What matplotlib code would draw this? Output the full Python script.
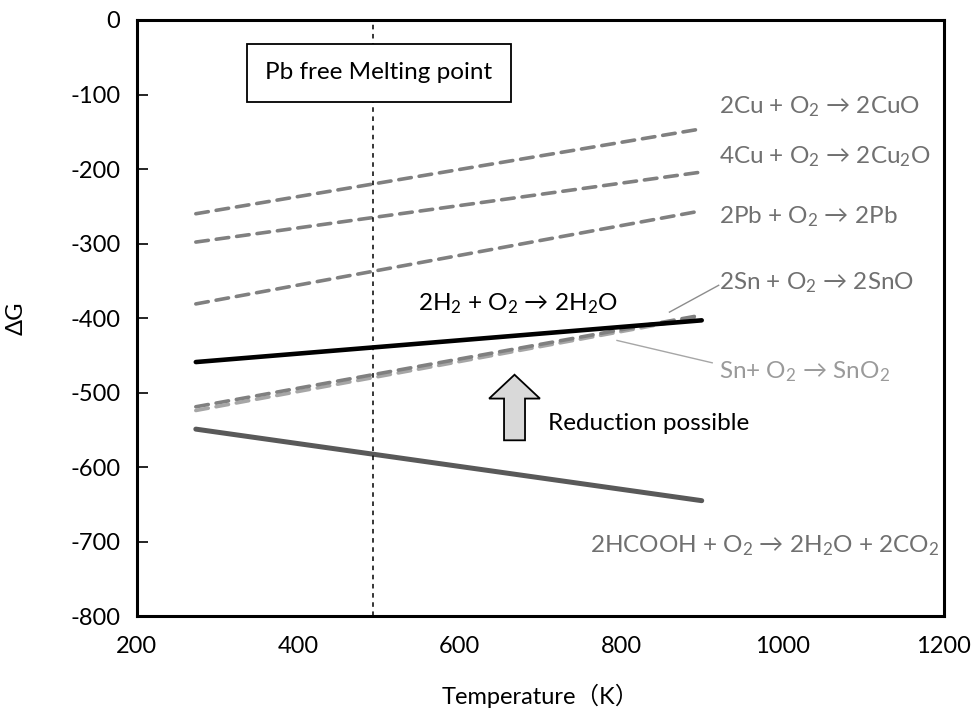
import matplotlib
matplotlib.use("Agg")
import matplotlib.pyplot as plt
from matplotlib.patches import FancyArrow

plt.rcParams["font.family"] = ["Lato", "Noto Sans CJK JP", "DejaVu Sans"]
plt.rcParams["mathtext.fontset"] = "custom"
plt.rcParams["mathtext.rm"] = "Lato"
plt.rcParams["mathtext.it"] = "Lato"
plt.rcParams["axes.unicode_minus"] = False

# temperature range of each line (K)
temp = [273, 900]
melt_temp = 493

# Gibbs energy at start / end temperature
dg_cuo = [-260, -146]
dg_cu2o = [-298, -204]
dg_pbo = [-381, -256]
dg_h2o = [-459, -403]
dg_sno = [-519, -396]
dg_sno2 = [-524, -398]
dg_hcooh = [-549, -645]

xticks = [200, 400, 600, 800, 1000, 1200]
yticks = [0, -100, -200, -300, -400, -500, -600, -700, -800]

fig = plt.figure(figsize=(9.78, 7.14), dpi=100)
ax = fig.add_axes([0.140, 0.137, 0.825, 0.835])

dash = dict(linestyle=(0, (3.5, 2.2)), dash_capstyle="round", lw=2.6)
ax.plot(temp, dg_cuo, color="#808080", **dash)
ax.plot(temp, dg_cu2o, color="#808080", **dash)
ax.plot(temp, dg_pbo, color="#808080", **dash)
ax.plot(temp, dg_sno2, color="#a6a6a6", **dash)
ax.plot(temp, dg_sno, color="#808080", **dash)
ax.plot(temp, dg_h2o, color="black", lw=3.3, solid_capstyle="round")
ax.plot(temp, dg_hcooh, color="#595959", lw=3.6, solid_capstyle="round")

ax.axvline(melt_temp, color="black", lw=1.1, linestyle=(0, (3, 3)))

ax.set_xlim(200, 1200)
ax.set_ylim(-800, 0)
ax.set_xticks(xticks)
ax.set_yticks(yticks)
ax.tick_params(axis="y", direction="in", length=8, width=1.2, labelsize=17, pad=12)
ax.tick_params(axis="x", length=0, labelsize=17, pad=14)
for s in ax.spines.values():
    s.set_linewidth(2.2)

ax.set_xlabel("Temperature（K）", fontsize=17)
ax.set_ylabel("ΔG", fontsize=17)
ax.xaxis.set_label_coords(0.5, -0.113)
ax.yaxis.set_label_coords(-0.137, 0.5)

fs = 17.5
ax.text(500, -71, "Pb free Melting point", fontsize=fs, ha="center", va="center",
        bbox=dict(boxstyle="square,pad=0.75", fc="white", ec="black", lw=1.3))

gray = "#707070"
ax.text(922, -117, "2Cu + O$_2$ → 2CuO", fontsize=fs, color=gray, va="center")
ax.text(922, -184, "4Cu + O$_2$ → 2Cu$_2$O", fontsize=fs, color=gray, va="center")
ax.text(922, -264, "2Pb + O$_2$ → 2Pb", fontsize=fs, color=gray, va="center")
ax.text(922, -353, "2Sn + O$_2$ → 2SnO", fontsize=fs, color=gray, va="center")
ax.text(922, -472, "Sn+ O$_2$ → SnO$_2$", fontsize=fs, color="#9a9a9a", va="center")
ax.text(1195, -705, "2HCOOH + O$_2$ → 2H$_2$O + 2CO$_2$", fontsize=fs, color=gray,
        va="center", ha="right")
ax.text(548, -381, "2H$_2$ + O$_2$ → 2H$_2$O", fontsize=fs, color="black", va="center")
ax.text(710, -541, "Reduction possible", fontsize=fs, color="black", va="center")

# leader lines to the tin oxide labels
ax.plot([860, 921], [-392, -356], color="#8c8c8c", lw=1)
ax.plot([795, 913], [-430, -460], color="#a6a6a6", lw=1)

ax.add_patch(FancyArrow(668, -564, 0, 88, width=26, head_width=63, head_length=32,
                        length_includes_head=True, fc="#d9d9d9", ec="black", lw=1.3))

fig.savefig("out.png", dpi=100)
